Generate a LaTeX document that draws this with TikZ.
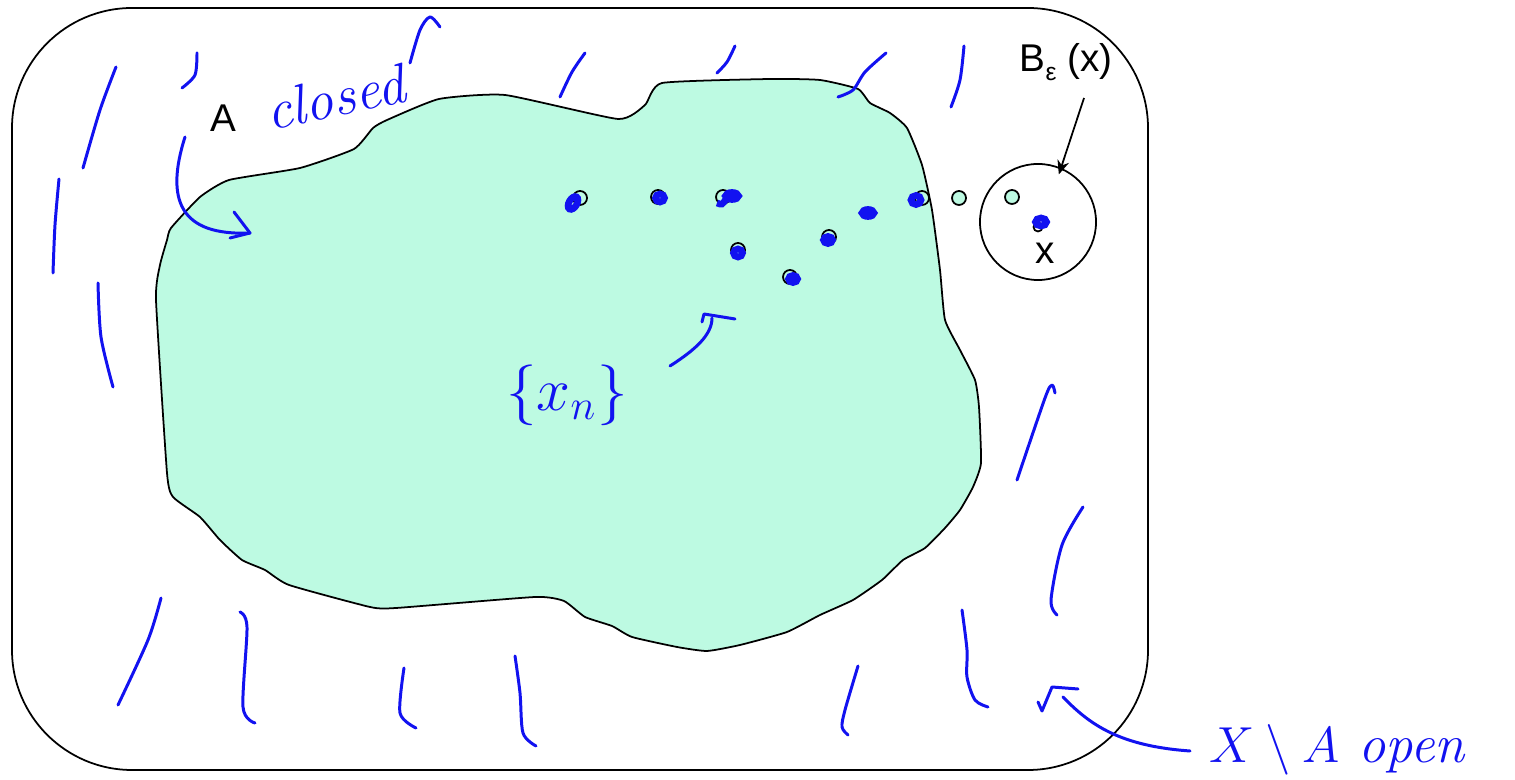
\documentclass[tikz,border=0pt]{standalone}
\usepackage{fontspec}
\newfontfamily\labelfont{Liberation Sans}
\usetikzlibrary{arrows.meta,positioning}

\definecolor{mint}{RGB}{189,250,226}
\definecolor{pen}{RGB}{18,18,240}

\begin{document}
\begin{tikzpicture}[x=0.01cm, y=-0.01cm, >=Stealth,
  hatch/.style={pen, line width=0.85pt, line cap=round, line join=round},
  scrib/.style={pen, line width=1.9pt},
  pt/.style={circle, draw, line width=0.5pt, inner sep=0pt, minimum size=0.14cm},
  lbl/.style={font=\labelfont\fontsize{11}{13}\selectfont, inner sep=1pt},
  hand/.style={pen, inner sep=1pt}]

  \useasboundingbox (0,0) rectangle (1515,780);

  %-------------------------
  % Space X and the set A
  %-------------------------
  \draw[line width=0.5pt, rounded corners=1.2cm] (12,8) rectangle (1148,770);

  \draw[line width=0.5pt, fill=mint] plot[smooth cycle, tension=0.3] coordinates {
    (171,228) (200,197) (229,180) (300,168) (354,149) (373,128) (387,120)
    (439,99) (505,95) (618,119) (645,105) (662,83) (770,79) (820,80)
    (858,89) (870,103) (890,113) (907,128) (922,165) (932,210) (940,270)
    (945,320) (960,350) (975,380) (979,407) (981,463) (973,487) (960,510)
    (945,528) (925,548) (903,560) (882,580) (853,600) (820,615) (787,632)
    (740,645) (707,651) (677,647) (632,637) (612,626) (585,617) (564,601)
    (535,597) (396,608) (370,607) (289,585) (265,570) (242,560) (220,540)
    (200,517) (173,497) (167,473) (156,300) (160,265) (167,240)};

  % hatching of the complement
  \draw[hatch] plot[smooth] coordinates {(116,67) (100,110) (83,168)};
  \draw[hatch] plot[smooth] coordinates {(59,179) (55,225) (53,273)};
  \draw[hatch] plot[smooth] coordinates {(98,283) (101,337) (113,387)};
  \draw[hatch] plot[smooth] coordinates {(197,53) (195,75) (182,88)};
  \draw[hatch] plot[smooth] coordinates {(440,27) (430,17) (420,30) (410,63)};
  \draw[hatch] plot[smooth] coordinates {(585,53) (572,72) (560,97)};
  \draw[hatch] plot[smooth] coordinates {(735,46) (727,62) (717,73)};
  \draw[hatch] plot[smooth] coordinates {(886,53) (865,72) (853,90) (838,97)};
  \draw[hatch] plot[smooth] coordinates {(964,46) (960,80) (951,107)};
  \draw[hatch] plot[smooth] coordinates {(1055,393) (1052,385) (1045,398) (1017,480)};
  \draw[hatch] plot[smooth] coordinates {(1083,507) (1062,545) (1051,600) (1057,615)};
  \draw[hatch] plot[smooth] coordinates {(962,610) (967,650) (967,677) (975,700) (988,707)};
  \draw[hatch] plot[smooth] coordinates {(858,666) (845,710) (842,727) (848,735)};
  \draw[hatch] plot[smooth] coordinates {(161,598) (148,640) (118,705)};
  \draw[hatch] plot[smooth] coordinates {(240,612) (247,627) (243,707) (255,723)};
  \draw[hatch] plot[smooth] coordinates {(404,668) (400,713) (416,728)};
  \draw[hatch] plot[smooth] coordinates {(515,656) (520,693) (523,733) (536,746)};

  %-------------------------
  % Sequence x_n
  %-------------------------
  \foreach \i/\px/\py in {1/580/198, 2/658/197, 3/723/197, 4/738/250,
                          5/790/277, 6/829/237, 7/922/198}
    \node[pt] (p\i) at (\px,\py) {};
  \node[pt, fill=mint] (q1) at (959,198) {};
  \node[pt, fill=mint] (q2) at (1012,197) {};

  % pen marks on the points
  \draw[scrib, rotate around={60:(573,203)}] (573,203) ellipse (0.07cm and 0.04cm);
  \draw[scrib] (660,198) ellipse (0.045cm and 0.04cm);
  \draw[scrib] (732,196) ellipse (0.065cm and 0.035cm);
  \draw[scrib] (726,199) .. controls (722,205) .. (717,203);
  \draw[scrib] (738,253) ellipse (0.045cm and 0.04cm);
  \draw[scrib] (793,279) ellipse (0.045cm and 0.035cm);
  \draw[scrib] (828,240) ellipse (0.045cm and 0.035cm);
  \draw[scrib] (868,213) ellipse (0.06cm and 0.035cm);
  \draw[scrib] (916,200) ellipse (0.05cm and 0.045cm);

  %-------------------------
  % Ball around x
  %-------------------------
  \node[circle, draw, line width=0.5pt, minimum size=1.16cm, inner sep=0pt] (ball) at (1038,222) {};
  \node[circle, draw, line width=0.5pt, minimum size=0.09cm, inner sep=0pt] (xpt) at (1038,227) {};
  \draw[scrib] (1041,222) ellipse (0.055cm and 0.04cm);
  \node[lbl] (xlab) at (1045,253) {x};

  \node[lbl] (blab) at (1066,62) {B\raisebox{-0.45ex}{\fontsize{7}{8}\selectfont ε} (x)};
  \coordinate (btail) at (1084,98);
  \draw[line width=0.5pt, -{Stealth[length=4pt, width=3.4pt]}, shorten >=-2pt] (btail) -- (ball.67);

  %-------------------------
  % Labels
  %-------------------------
  \node[lbl] (alab) at (223,118) {A};
  \node[hand, rotate=12, font=\itshape\fontsize{16}{18}\selectfont] (closedlab) at (335,97) {closed};
  \coordinate (aend) at (250,233);
  \draw[hatch] (185,137) .. controls (165,200) and (180,236) .. (aend);
  \draw[hatch] (234,212) -- (aend) -- (230,238);

  \node[hand, font=\fontsize{17}{19}\selectfont] (seqlab) at (567,395) {$\{x_n\}$};
  \coordinate (seqend) at (712,318);
  \draw[hatch] (670,366) .. controls (695,350) and (712,335) .. (seqend);
  \draw[hatch] (702,322) -- (704,314) -- (735,319);

  \node[hand, font=\itshape\fontsize{15.5}{18}\selectfont, anchor=west] (openlab) at (1205,750) {$X\setminus A$ open};
  \coordinate (openend) at (1063,697);
  \draw[hatch] (1190,751) .. controls (1120,746) and (1090,725) .. (openend);
  \draw[hatch] (1038,702) -- (1042,711) -- (1052,687) -- (1078,689);

\end{tikzpicture}
\end{document}
